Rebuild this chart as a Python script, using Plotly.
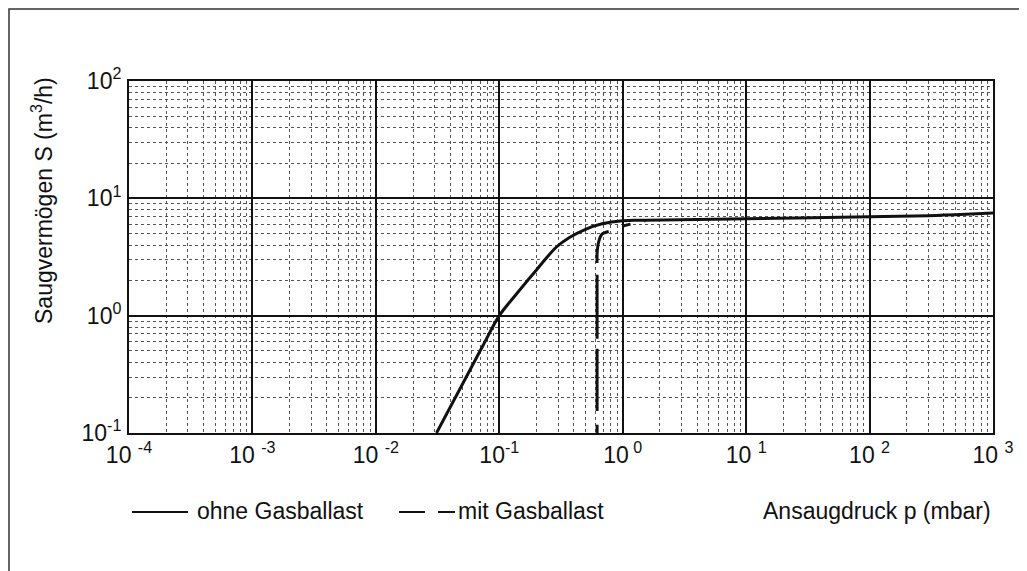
import plotly.graph_objects as go

# --- data ---
p_ohne = [0.031, 0.054, 0.074, 0.1, 0.13, 0.2, 0.289, 0.37, 0.5, 0.68, 1.0, 1.52, 10.0, 100.0, 300.0, 600.0, 1000.0]
S_ohne = [0.1, 0.3, 0.56, 1.0, 1.42, 2.45, 3.83, 4.64, 5.45, 6.07, 6.45, 6.5, 6.7, 6.95, 7.1, 7.3, 7.5]

p_mit = [0.62, 0.62, 0.62, 0.62, 0.64, 0.68, 0.77, None, 1.0, 1.52]
S_mit = [0.1, 1.0, 2.5, 3.4, 4.3, 4.95, 5.21, None, 5.81, 6.45]

x_tickvals = [1e-4, 1e-3, 1e-2, 1e-1, 1e0, 1e1, 1e2, 1e3]
x_ticktext = ["10 <sup>-4</sup>", "10 <sup>-3</sup>", "10 <sup>-2</sup>", "10<sup>-1</sup>",
              "10<sup> 0</sup>", "10 <sup>1</sup>", "10 <sup>2</sup>", "10 <sup>3</sup>"]
y_tickvals = [1e-1, 1e0, 1e1, 1e2]
y_ticktext = ["10<sup>-1</sup>", "10<sup>0</sup>", "10<sup>1</sup>", "10<sup>2</sup>"]

OFF = 8  # page body margin
W, H = 1027 - OFF, 571 - OFF
L, R, T, B = 129 - OFF, 34, 81 - OFF, 138
PW, PH = W - L - R, H - T - B


def px(x):
    return (x - OFF - L) / PW


def py(y):
    return (T + PH - (y - OFF)) / PH


INK = "#111111"
FONT = "Liberation Sans, Arial, Helvetica, sans-serif"

fig = go.Figure()
fig.add_trace(go.Scatter(x=p_ohne, y=S_ohne, mode="lines",
                         line=dict(color=INK, width=3, shape="spline", smoothing=1.0),
                         name="ohne Gasballast", showlegend=False))
fig.add_trace(go.Scatter(x=p_mit, y=S_mit, mode="lines", connectgaps=False,
                         line=dict(color=INK, width=3, dash="8px,14px,62px,10px,64px,12px,400px",
                                   shape="spline", smoothing=0.6),
                         name="mit Gasballast", showlegend=False))

axis_common = dict(
    type="log",
    showline=True, linecolor=INK, linewidth=2, mirror=True,
    showgrid=True, gridcolor=INK, gridwidth=2,
    ticks="", zeroline=False,
    tickfont=dict(family=FONT, size=23, color=INK),
    minor=dict(dtick="D1", showgrid=True, gridcolor="#555555", gridwidth=1, griddash="dot", ticks=""),
)

fig.update_xaxes(range=[-4, 3], tickvals=x_tickvals, ticktext=x_ticktext, **axis_common)
fig.update_yaxes(range=[-1, 2], tickvals=y_tickvals, ticktext=y_ticktext, ticklabelstandoff=1, **axis_common)

shapes = [
    # outer frame
    dict(type="rect", xref="paper", yref="paper", x0=px(9), x1=px(1022), y0=py(590), y1=py(9),
         line=dict(color="#333333", width=1.5), layer="below"),
    # legend samples
    dict(type="line", xref="paper", yref="paper", x0=px(132), x1=px(188), y0=py(512), y1=py(512),
         line=dict(color=INK, width=2)),
    dict(type="line", xref="paper", yref="paper", x0=px(399), x1=px(425), y0=py(512), y1=py(512),
         line=dict(color=INK, width=2)),
    dict(type="line", xref="paper", yref="paper", x0=px(438), x1=px(455), y0=py(512), y1=py(512),
         line=dict(color=INK, width=2)),
]

annotations = [
    dict(text="Saugvermögen S (m<sup>3</sup>/h)", xref="paper", yref="paper", x=px(42), y=py(201),
         textangle=-90, showarrow=False, xanchor="center", yanchor="middle",
         font=dict(family=FONT, size=23, color=INK)),
    dict(text="ohne Gasballast", xref="paper", yref="paper", x=px(195), y=py(511),
         showarrow=False, xanchor="left", yanchor="middle", font=dict(family=FONT, size=23, color=INK)),
    dict(text="mit Gasballast", xref="paper", yref="paper", x=px(456), y=py(511),
         showarrow=False, xanchor="left", yanchor="middle", font=dict(family=FONT, size=23, color=INK)),
    dict(text="Ansaugdruck p (mbar)", xref="paper", yref="paper", x=px(993), y=py(511),
         showarrow=False, xanchor="right", yanchor="middle", font=dict(family=FONT, size=23, color=INK)),
]

fig.update_layout(
    width=W, height=H,
    margin=dict(l=L, r=R, t=T, b=B, pad=0),
    paper_bgcolor="white", plot_bgcolor="white",
    shapes=shapes, annotations=annotations,
    showlegend=False,
    font=dict(family=FONT, color=INK),
)

fig.write_html("out.html")
